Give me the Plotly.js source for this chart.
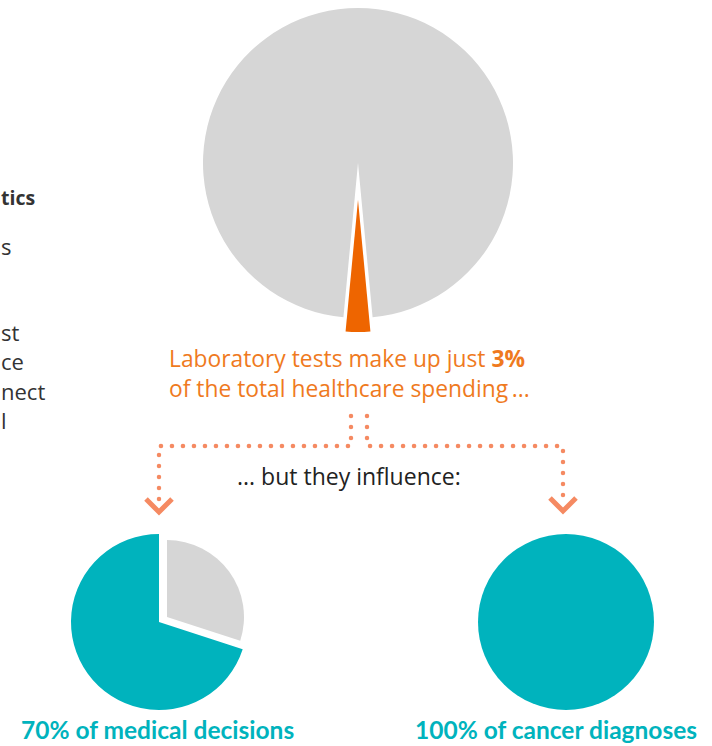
<!DOCTYPE html>
<html>
<head>
<meta charset="utf-8">
<script src="https://cdn.plot.ly/plotly-3.0.1.min.js"></script>
<style>
  html, body { margin: 0; padding: 0; background: #ffffff; }
  #chart { width: 712px; height: 746px; }
</style>
</head>
<body>
<div id="chart"></div>
<script>
// ---- data ----
const spendingLabels = ['Laboratory tests', 'Other healthcare spending'];
const spendingValues = [3, 97];
const decisionLabels = ['Influenced by laboratory tests', 'Other medical decisions'];
const decisionValues = [70, 30];
const diagnosisLabels = ['Influenced by laboratory tests', 'Other'];
const diagnosisValues = [100, 0];
const headlineLine1 = 'Laboratory tests make up just <b>3%</b>';
const headlineLine2 = 'of the total healthcare spending\u2009...';
const connectorText = '... but they influence:';
const decisionCaption = '70% of medical decisions';
const diagnosisCaption = '100% of cancer diagnoses';
const sideFragments = ['<b>tics</b>', 's', 'st', 'ce', 'nect', 'l'];

// ---- helpers ----
const W = 712, H = 746;
const GRAY = '#d6d6d6', ORANGE = '#ee6500', TEAL = '#00b3bd', SALMON = '#f58a62', NONE = 'rgba(0,0,0,0)';
function px(x) { return x / W; }
function py(y) { return 1 - y / H; }
function dom(cx, cy, r) { return { x: [px(cx - r), px(cx + r)], y: [py(cy + r), py(cy - r)] }; }
function pie(labels, values, colors, domain, rotation) {
  return {
    type: 'pie', labels: labels, values: values, sort: false,
    direction: 'clockwise', rotation: rotation,
    marker: { colors: colors, line: { width: 0 } },
    textinfo: 'none', hoverinfo: 'none', domain: domain, showlegend: false
  };
}

const data = [
  pie(spendingLabels, spendingValues, [NONE, GRAY], dom(358, 163, 155), 174.6),
  pie(spendingLabels, spendingValues, [ORANGE, NONE], dom(358, 200, 132), 174.6),
  pie(decisionLabels, decisionValues, [TEAL, NONE], dom(159, 622, 88), 108),
  pie(decisionLabels, decisionValues, [NONE, GRAY], dom(167, 617, 77), 108),
  pie(diagnosisLabels, diagnosisValues, [TEAL, GRAY], dom(566, 622, 88), 0)
];

function P(points) {
  return points.map((p, i) => (i ? 'L' : 'M') + px(p[0]).toFixed(5) + ',' + py(p[1]).toFixed(5)).join(' ');
}
const shapes = [
  { type: 'path', xref: 'paper', yref: 'paper', path: P([[351, 416], [351, 446], [159, 446], [159, 503]]),
    line: { color: SALMON, width: 4.5, dash: '4px,7px' } },
  { type: 'path', xref: 'paper', yref: 'paper', path: P([[367, 416], [367, 446], [563, 446], [563, 503]]),
    line: { color: SALMON, width: 4.5, dash: '4px,7px' } },
  { type: 'path', xref: 'paper', yref: 'paper', path: P([[146, 499], [159, 512], [172, 499]]),
    line: { color: SALMON, width: 5 } },
  { type: 'path', xref: 'paper', yref: 'paper', path: P([[550, 498], [563, 511], [576, 498]]),
    line: { color: SALMON, width: 5 } }
];

function ann(text, x, y, xanchor, font) {
  return { text: text, xref: 'paper', yref: 'paper', x: px(x), y: py(y), xanchor: xanchor, yanchor: 'middle',
           showarrow: false, font: font, align: 'left', borderpad: 0 };
}
const orangeFont = { family: '"Open Sans", sans-serif', size: 22.8, color: '#ef7a1e' };
const darkFont = { family: '"Open Sans", sans-serif', size: 23, color: '#222222' };
const tealFont = { family: 'Lato, sans-serif', size: 24.5, color: TEAL, weight: 'bold' };
const sideFont = { family: '"Open Sans", sans-serif', size: 22, color: '#333333' };
const sideBold = { family: '"Open Sans", sans-serif', size: 19.5, color: '#333333' };
const sideY = [198, 246, 332, 361, 391, 420];

const annotations = [
  ann(headlineLine1, 168, 358, 'left', orangeFont),
  ann(headlineLine2, 168, 388, 'left', orangeFont),
  ann(connectorText, 236, 476, 'left', darkFont),
  ann('<b>' + decisionCaption + '</b>', 157, 729, 'center', tealFont),
  ann('<b>' + diagnosisCaption + '</b>', 556, 729, 'center', tealFont)
];
sideFragments.forEach((t, i) => annotations.push(ann(t, 0, sideY[i], 'left', i === 0 ? sideBold : sideFont)));

const layout = {
  width: W, height: H, margin: { l: 0, r: 0, t: 0, b: 0, pad: 0 },
  paper_bgcolor: '#ffffff', plot_bgcolor: '#ffffff', showlegend: false,
  shapes: shapes, annotations: annotations
};

Plotly.newPlot('chart', data, layout, { staticPlot: true, displayModeBar: false }).then(function () {
  document.querySelectorAll('.shapelayer path').forEach(function (p) {
    const idx = p.getAttribute('data-index');
    if (idx === '0' || idx === '1') {
      p.style.strokeLinecap = 'round';
      p.style.strokeDasharray = '0.1px,10.9px';
    }
  });
});
</script>
</body>
</html>
